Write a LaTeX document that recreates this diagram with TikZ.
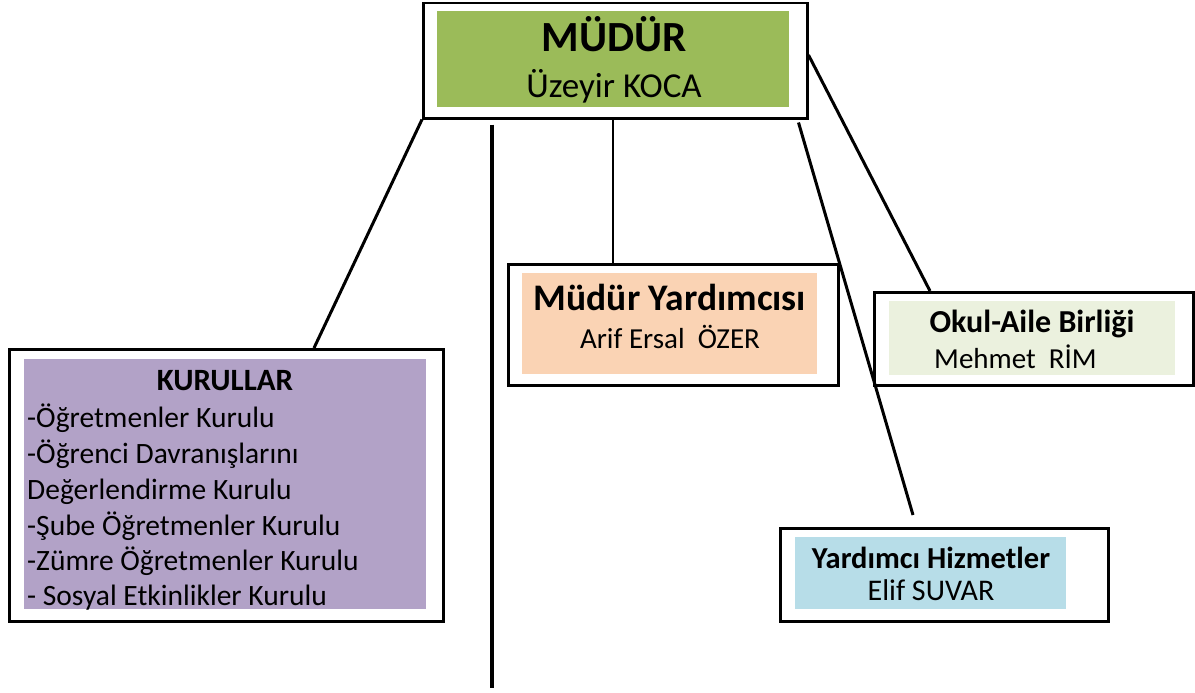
\documentclass[tikz,border=0pt]{standalone}
\usepackage{fontspec}
\setmainfont{Carlito}
\definecolor{mgreen}{HTML}{9BBB59}
\definecolor{mpurple}{HTML}{B2A2C7}
\definecolor{mpeach}{HTML}{FAD3B4}
\definecolor{mlgreen}{HTML}{EBF1DE}
\definecolor{mblue}{HTML}{B7DDE8}
\begin{document}
\begin{tikzpicture}[x=1pt,y=-1pt,
  outer/.style={draw=black, line width=2.5pt, fill=white, inner sep=0pt, anchor=north west},
  fillbox/.style={draw=none, inner sep=0pt, anchor=north west},
  conn/.style={line width=3pt},
  txt/.style={inner sep=0pt, anchor=base},
  listtxt/.style={inner sep=0pt, anchor=base west, font=\fontsize{29.5}{34}\selectfont}
]
\useasboundingbox (0,0) rectangle (1195,693);
\fill[white] (0,0) rectangle (1195,693);

% Müdür
\node[outer, minimum width=384pt, minimum height=115pt] (mo) at (422,2) {};
\node[fillbox, fill=mgreen, minimum width=352pt, minimum height=96pt] (mi) at (437,11) {};
\node[txt, font=\fontsize{43}{50}\selectfont\bfseries] (mt1) at (614,52) {MÜDÜR};
\node[txt, font=\fontsize{35}{40}\selectfont] (mt2) at (614,97) {Üzeyir KOCA};

% Kurullar
\node[outer, minimum width=434pt, minimum height=272pt] (ko) at (8,348) {};
\node[fillbox, fill=mpurple, minimum width=402pt, minimum height=250pt] (ki) at (24,359) {};
\node[txt, font=\fontsize{31}{36}\selectfont\bfseries] (kt0) at (225,390) {KURULLAR};
\node[listtxt] (kt1) at (27,427) {-Öğretmenler Kurulu};
\node[listtxt] (kt2) at (27,463) {-Öğrenci Davranışlarını};
\node[listtxt] (kt3) at (27,499) {Değerlendirme Kurulu};
\node[listtxt] (kt4) at (27,535) {-Şube Öğretmenler Kurulu};
\node[listtxt] (kt5) at (27,570) {-Zümre Öğretmenler Kurulu};
\node[listtxt] (kt6) at (27,605) {- Sosyal Etkinlikler Kurulu};

% Müdür Yardımcısı
\node[outer, minimum width=330pt, minimum height=121pt] (yo) at (507,263) {};
\node[fillbox, fill=mpeach, minimum width=295pt, minimum height=101pt] (yi) at (522,273) {};
\node[txt, font=\fontsize{37.5}{42}\selectfont\bfseries] (yt1) at (670,310) {Müdür Yardımcısı};
\node[txt, font=\fontsize{29}{34}\selectfont] (yt2) at (670,348) {Arif Ersal\ \ ÖZER};

% Okul-Aile Birliği
\node[outer, minimum width=319pt, minimum height=93pt] (oa) at (873,291) {};
\node[fillbox, fill=mlgreen, minimum width=286pt, minimum height=74pt] (oi) at (889,301) {};
\node[txt, font=\fontsize{32}{36}\selectfont\bfseries] (ot1) at (1032,332) {Okul-Aile Birliği};
\node[txt, anchor=base west, font=\fontsize{29}{34}\selectfont] (ot2) at (934,368) {Mehmet\ \ RİM};

% Yardımcı Hizmetler
\node[outer, minimum width=328pt, minimum height=93pt] (yh) at (779,527) {};
\node[fillbox, fill=mblue, minimum width=271pt, minimum height=72pt] (yhi) at (795,537) {};
\node[txt, font=\fontsize{30.5}{35}\selectfont\bfseries] (ht1) at (931,568) {Yardımcı Hizmetler};
\node[txt, font=\fontsize{30}{35}\selectfont] (ht2) at (931,600) {Elif SUVAR};

% connectors
\coordinate (vend) at (492,688);
\draw[conn] (mo.south west) -- ([xshift=306pt]ko.north west);
\draw[line width=4.5pt] ([xshift=70pt,yshift=-5pt]mo.south west) -- (vend);
\draw[line width=1.5pt] ([xshift=191pt]mo.south west) -- ([xshift=106pt]yo.north west);
\draw[conn] ([xshift=-10pt,yshift=-3pt]mo.south east) -- ([xshift=134pt,yshift=12pt]yh.north west);
\draw[conn] ([yshift=-53pt]mo.north east) -- ([xshift=57pt]oa.north west);
\end{tikzpicture}
\end{document}
